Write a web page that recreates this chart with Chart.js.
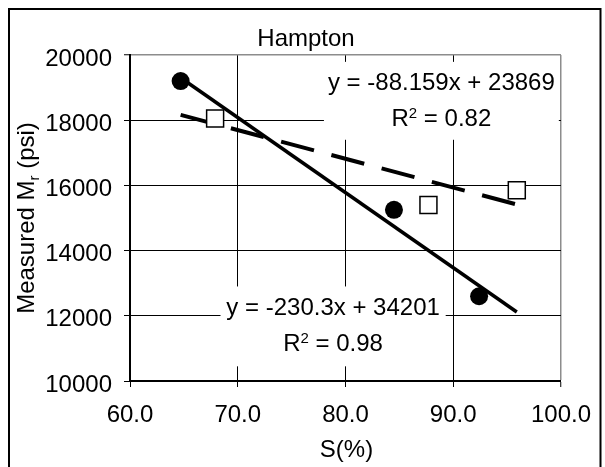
<!DOCTYPE html>
<html lang="en">
<head>
<meta charset="UTF-8">
<title>Hampton</title>
<script src="https://cdn.jsdelivr.net/npm/chart.js"></script>
<style>
  body { margin: 0; background: #fff; }
  #wrap { width: 605px; height: 467px; position: relative; }
</style>
</head>
<body>
<div id="wrap"><canvas id="mrChart"></canvas></div>
<script>
// Degree of saturation S(%) vs measured resilient modulus (psi)
const sCircle = [64.7, 84.5, 92.4];
const mrCircle = [19200, 15250, 12600];
const sSquare = [67.9, 87.7, 95.9];
const mrSquare = [18050, 15400, 15850];

// Linear trendlines (Excel style labels)
const fitSolid = { slope: -230.3, intercept: 34201, r2: '0.98' };
const fitDashed = { slope: -88.159, intercept: 23869, r2: '0.82' };

const xTicks = [60, 70, 80, 90, 100];
const yTicks = [10000, 12000, 14000, 16000, 18000, 20000];

const FONT = '"Liberation Sans", Arial, sans-serif';
const FS = 24;
const xMin = Math.min(...sCircle, ...sSquare);
const xMax = Math.max(...sCircle, ...sSquare);

function trend(fit) {
    return [xMin, xMax].map(x => ({ x: x, y: fit.slope * x + fit.intercept }));
}
function pts(xs, ys) {
    return xs.map((x, i) => ({ x: x, y: ys[i] }));
}

// text made of pieces with their own size / vertical shift (sub/superscripts)
function richText(ctx, parts, cx, baseline) {
    let total = 0;
    parts.forEach(p => {
        ctx.font = (p.size || FS) + 'px ' + FONT;
        p.w = ctx.measureText(p.t).width;
        total += p.w;
    });
    let x = cx - total / 2;
    ctx.textAlign = 'left';
    ctx.textBaseline = 'alphabetic';
    parts.forEach(p => {
        ctx.font = (p.size || FS) + 'px ' + FONT;
        ctx.fillText(p.t, x, baseline + (p.dy || 0));
        x += p.w;
    });
}

// equation boxes, given in data units (x1, x2, y1, y2)
const eqBoxes = [
    { fit: fitDashed, x1: 78.0, x2: 99.8, y1: 19790, y2: 17400 },
    { fit: fitSolid, x1: 68.4, x2: 89.3, y1: 12900, y2: 10450 }
];

const decorPlugin = {
    id: 'decor',
    beforeDatasetsDraw(chart) {
        const ctx = chart.ctx;
        const xs = chart.scales.x, ys = chart.scales.y;
        ctx.save();
        eqBoxes.forEach(b => {
            const l = xs.getPixelForValue(b.x1), r = xs.getPixelForValue(b.x2);
            const t = ys.getPixelForValue(b.y1), btm = ys.getPixelForValue(b.y2);
            ctx.fillStyle = '#fff';
            ctx.fillRect(l, t, r - l, btm - t);
            ctx.fillStyle = '#000';
            const cx = (l + r) / 2;
            richText(ctx, [{ t: 'y = ' + b.fit.slope + 'x + ' + b.fit.intercept }], cx, t + 28.5);
            richText(ctx, [{ t: 'R' }, { t: '2', size: 15, dy: -8 }, { t: ' = ' + b.fit.r2 }], cx, t + 64.5);
        });
        ctx.restore();
    },
    afterDraw(chart) {
        const ctx = chart.ctx;
        const area = chart.chartArea;
        ctx.save();
        // outer frame
        ctx.strokeStyle = '#000';
        ctx.lineWidth = 2;
        ctx.strokeRect(9, 9, 591.5, 480);
        ctx.fillStyle = '#000';
        // chart title
        richText(ctx, [{ t: 'Hampton' }], 306, 46);
        // x axis title
        richText(ctx, [{ t: 'S(%)' }], (area.left + area.right) / 2 + 1, 457);
        // y axis title, rotated
        ctx.translate(34, (area.top + area.bottom) / 2);
        ctx.rotate(-Math.PI / 2);
        richText(ctx, [{ t: 'Measured M' }, { t: 'r', size: 15, dy: 5 }, { t: ' (psi)' }], 0, 0);
        ctx.restore();
    }
};

Chart.defaults.font.family = FONT;
Chart.defaults.font.size = FS;
Chart.defaults.color = '#000';

const ctx = document.getElementById('mrChart').getContext('2d');
new Chart(ctx, {
    type: 'scatter',
    data: {
        datasets: [
            {
                label: 'circles',
                data: pts(sCircle, mrCircle),
                pointStyle: 'circle',
                pointRadius: 9,
                backgroundColor: '#000',
                borderColor: '#000',
                borderWidth: 0
            },
            {
                label: 'squares',
                data: pts(sSquare, mrSquare),
                pointStyle: 'rect',
                pointRadius: 12,
                backgroundColor: '#fff',
                borderColor: '#000',
                borderWidth: 1.5
            },
            {
                label: 'fit circles',
                data: trend(fitSolid),
                showLine: true,
                pointRadius: 0,
                borderColor: '#000',
                borderWidth: 3.5
            },
            {
                label: 'fit squares',
                data: trend(fitDashed),
                showLine: true,
                pointRadius: 0,
                borderColor: '#000',
                borderWidth: 4,
                borderDash: [34, 18]
            }
        ]
    },
    options: {
        responsive: true,
        maintainAspectRatio: false,
        animation: false,
        layout: { padding: { left: 0, top: 55, right: 36, bottom: 0 } },
        plugins: {
            legend: { display: false },
            tooltip: { enabled: false }
        },
        scales: {
            x: {
                type: 'linear',
                min: xTicks[0],
                max: xTicks[xTicks.length - 1],
                afterBuildTicks: s => { s.ticks = xTicks.map(v => ({ value: v })); },
                afterFit: s => { s.height = 86; },
                ticks: {
                    padding: 14,
                    maxRotation: 0,
                    callback: v => Number(v).toFixed(1)
                },
                grid: {
                    color: c => (c.tick && c.tick.value === xTicks[xTicks.length - 1]) ? '#8c8c8c' : '#000',
                    lineWidth: c => (c.tick && c.tick.value === xTicks[xTicks.length - 1]) ? 1.5 : 1,
                    tickColor: '#000',
                    tickLength: 6,
                    tickWidth: 1
                },
                border: { color: '#000', width: 2 }
            },
            y: {
                type: 'linear',
                min: yTicks[0],
                max: yTicks[yTicks.length - 1],
                afterBuildTicks: s => { s.ticks = yTicks.map(v => ({ value: v })); },
                afterFit: s => { s.width = 130; },
                ticks: {
                    padding: 12,
                    labelOffset: 4,
                    callback: v => String(v)
                },
                grid: {
                    color: c => (c.tick && c.tick.value === yTicks[yTicks.length - 1]) ? '#8c8c8c' : '#000',
                    lineWidth: c => (c.tick && c.tick.value === yTicks[yTicks.length - 1]) ? 1.5 : 1,
                    tickColor: '#000',
                    tickLength: 6,
                    tickWidth: 1
                },
                border: { color: '#000', width: 2 }
            }
        }
    },
    plugins: [decorPlugin]
});
</script>
</body>
</html>
